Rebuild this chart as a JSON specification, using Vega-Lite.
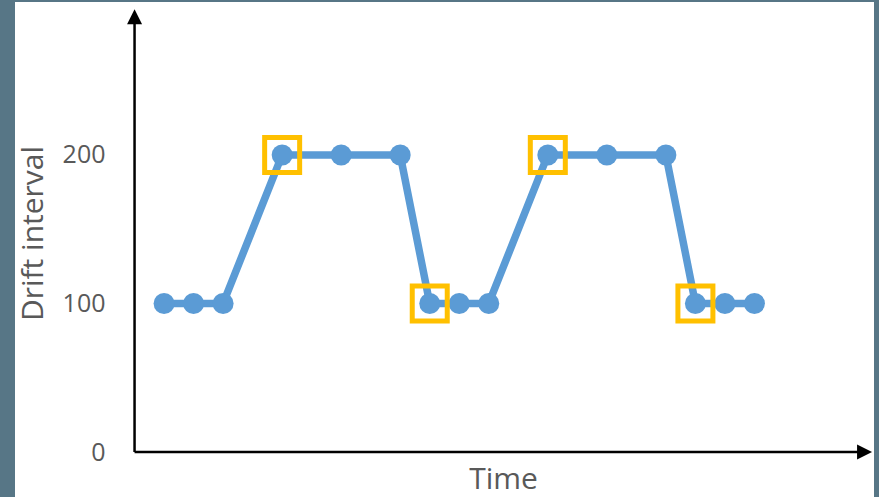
{
  "$schema": "https://vega.github.io/schema/vega-lite/v6.json",
  "width": 859,
  "height": 495,
  "autosize": {"type": "none"},
  "padding": {"left": 15, "top": 2, "right": 5, "bottom": 0},
  "background": "#577686",
  "config": {
    "view": {"fill": "white", "stroke": null},
    "font": "Open Sans"
  },
  "datasets": {
    "series": [
      {"t": 1, "interval": 100, "switch": false},
      {"t": 2, "interval": 100, "switch": false},
      {"t": 3, "interval": 100, "switch": false},
      {"t": 5, "interval": 200, "switch": true},
      {"t": 7, "interval": 200, "switch": false},
      {"t": 9, "interval": 200, "switch": false},
      {"t": 10, "interval": 100, "switch": true},
      {"t": 11, "interval": 100, "switch": false},
      {"t": 12, "interval": 100, "switch": false},
      {"t": 14, "interval": 200, "switch": true},
      {"t": 16, "interval": 200, "switch": false},
      {"t": 18, "interval": 200, "switch": false},
      {"t": 19, "interval": 100, "switch": true},
      {"t": 20, "interval": 100, "switch": false},
      {"t": 21, "interval": 100, "switch": false}
    ],
    "axisLines": [
      {"t": 0, "interval": 0, "t2": 0, "interval2": 293},
      {"t": 0, "interval": 0, "t2": 24.73, "interval2": 0}
    ],
    "arrowHeads": [
      {"t": 0, "interval": 293, "dir": "up"},
      {"t": 24.73, "interval": 0, "dir": "right"}
    ]
  },
  "encoding": {
    "x": {
      "field": "t",
      "type": "quantitative",
      "scale": {"domain": [-4.05, 25.05], "nice": false, "zero": false},
      "axis": {
        "orient": "bottom",
        "offset": -45,
        "domain": false,
        "ticks": false,
        "labels": false,
        "grid": false,
        "title": "Time",
        "titleFont": "Open Sans",
        "titleFontSize": 30,
        "titleFontWeight": "normal",
        "titleColor": "#595959",
        "titleX": 488,
        "titlePadding": 12
      }
    },
    "y": {
      "field": "interval",
      "type": "quantitative",
      "scale": {"domain": [-30.3, 303], "nice": false, "zero": false},
      "axis": {
        "orient": "left",
        "offset": -90,
        "domain": false,
        "ticks": false,
        "tickSize": 0,
        "grid": false,
        "values": [0, 100, 200],
        "labelFont": "Open Sans",
        "labelFontSize": 25,
        "labelColor": "#595959",
        "labelPadding": 0,
        "title": "Drift interval",
        "titleFont": "Open Sans",
        "titleFontSize": 30,
        "titleFontWeight": "normal",
        "titleColor": "#595959",
        "titleY": 231,
        "titlePadding": 14
      }
    }
  },
  "layer": [
    {
      "data": {"name": "axisLines"},
      "mark": {"type": "rule", "color": "black", "strokeWidth": 2.5},
      "encoding": {
        "x2": {"field": "t2"},
        "y2": {"field": "interval2"}
      }
    },
    {
      "data": {"name": "arrowHeads"},
      "mark": {"type": "point", "filled": true, "color": "black", "opacity": 1, "size": 225},
      "encoding": {
        "shape": {
          "field": "dir",
          "type": "nominal",
          "scale": {"domain": ["up", "right"], "range": ["M0,-1L1,1L-1,1Z", "M1,0L-1,-1L-1,1Z"]},
          "legend": null
        }
      }
    },
    {
      "data": {"name": "series"},
      "mark": {"type": "line", "color": "#5B9BD5", "strokeWidth": 7.5, "strokeJoin": "round"}
    },
    {
      "data": {"name": "series"},
      "mark": {"type": "circle", "color": "#5B9BD5", "opacity": 1, "size": 440}
    },
    {
      "data": {"name": "series"},
      "transform": [{"filter": "datum.switch"}],
      "mark": {"type": "square", "filled": false, "stroke": "#FFC000", "strokeWidth": 5, "opacity": 1, "size": 1225}
    }
  ]
}
